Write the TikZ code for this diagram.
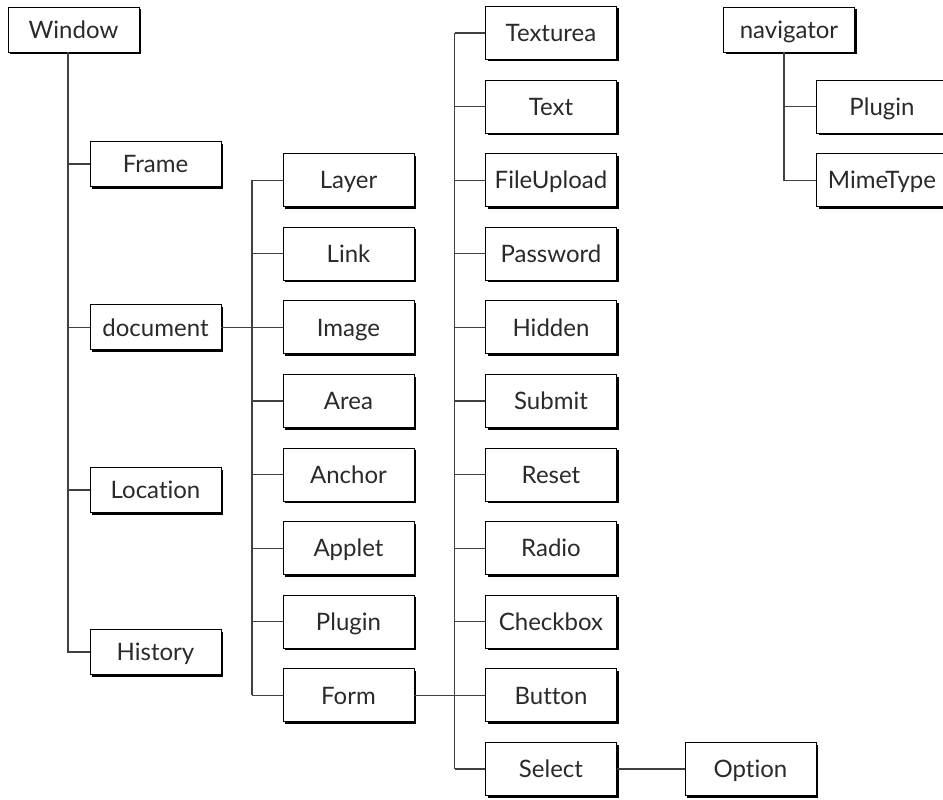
\documentclass[tikz,border=0pt]{standalone}
\usepackage{fontspec}
\setmainfont{Lato}[Ligatures=NoCommon]
\usetikzlibrary{shadows}
\definecolor{ink}{HTML}{2A2A2A}
\definecolor{wire}{HTML}{404040}
\begin{document}
\begin{tikzpicture}[x=1pt,y=-1pt,
  basebox/.style={draw=black, line width=0.9pt, fill=white, inner sep=0pt,
    minimum width=131pt, text=ink, font=\fontsize{24}{26}\selectfont,
    text height=17.2pt, text depth=0pt,
    drop shadow={shadow xshift=2pt, shadow yshift=-2pt, opacity=1, fill=black}},
  topbox/.style={basebox, minimum height=45pt},
  subbox/.style={basebox, minimum height=53pt},
  wireline/.style={draw=wire, line width=1.1pt}]
\useasboundingbox (0,0) rectangle (943,800);
% top level
\node[topbox] (Window) at (73.5,29.5) {Window};
\node[topbox] (Frame) at (155.5,164) {Frame};
\node[topbox] (document) at (155.5,327.4) {document};
\node[topbox] (Location) at (155.5,490) {Location};
\node[topbox] (History) at (155.5,652) {History};
\node[topbox] (navigator) at (789,29.5) {navigator};
% column 2
\node[subbox] (Layer) at (348.5,180.2) {Layer};
\node[subbox] (Link) at (348.5,253.8) {Link};
\node[subbox] (Image) at (348.5,327.4) {Image};
\node[subbox] (Area) at (348.5,401) {Area};
\node[subbox] (Anchor) at (348.5,474.6) {Anchor};
\node[subbox] (Applet) at (348.5,548.2) {Applet};
\node[subbox] (Plugin) at (348.5,621.8) {Plugin};
\node[subbox] (Form) at (348.5,695.4) {Form};
% column 3
\node[subbox] (Texturea) at (551,33) {Texturea};
\node[subbox] (Text) at (551,106.6) {Text};
\node[subbox] (FileUpload) at (551,180.2) {FileUpload};
\node[subbox] (Password) at (551,253.8) {Password};
\node[subbox] (Hidden) at (551,327.4) {Hidden};
\node[subbox] (Submit) at (551,401) {Submit};
\node[subbox] (Reset) at (551,474.6) {Reset};
\node[subbox] (Radio) at (551,548.2) {Radio};
\node[subbox] (Checkbox) at (551,621.8) {Checkbox};
\node[subbox] (Button) at (551,695.4) {Button};
\node[subbox] (Select) at (551,769) {Select};
\node[subbox] (Option) at (750.5,769) {Option};
% navigator children
\node[subbox] (NavPlugin) at (882,106.6) {Plugin};
\node[subbox] (MimeType) at (882,180.2) {MimeType};
% buses
\coordinate (busA) at (68,0);
\coordinate (busB) at (252,0);
\coordinate (busC) at (454.5,0);
\coordinate (busN) at (784,0);
% Window tree
\draw[wireline] (busA |- Window.south) -- (busA |- History.west) -- (History.west);
\foreach \n in {Frame,document,Location}
  \draw[wireline] (busA |- \n.west) -- (\n.west);
% document tree
\draw[wireline] (document.east) -- (Image.west);
\draw[wireline] (busB |- Layer.west) -- (busB |- Form.west);
\foreach \n in {Layer,Link,Area,Anchor,Applet,Plugin,Form}
  \draw[wireline] (busB |- \n.west) -- (\n.west);
% Form tree
\draw[wireline] (Form.east) -- (Button.west);
\draw[wireline] (busC |- Texturea.west) -- (busC |- Select.west);
\foreach \n in {Texturea,Text,FileUpload,Password,Hidden,Submit,Reset,Radio,Checkbox,Select}
  \draw[wireline] (busC |- \n.west) -- (\n.west);
\draw[wireline] (Select.east) -- (Option.west);
% navigator tree
\draw[wireline] (busN |- navigator.south) -- (busN |- MimeType.west) -- (MimeType.west);
\draw[wireline] (busN |- NavPlugin.west) -- (NavPlugin.west);
\end{tikzpicture}
\end{document}
